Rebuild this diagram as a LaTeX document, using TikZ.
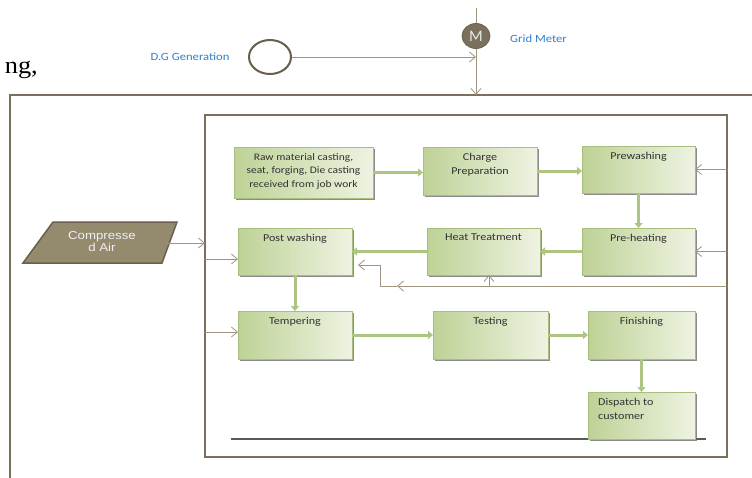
\documentclass[tikz,border=0pt]{standalone}
\usepackage{fontspec}
\setmainfont{Carlito}
\newfontfamily\boxf[FakeStretch=1.15]{Carlito}
\newfontfamily\airf[FakeStretch=1.15]{Liberation Sans}
\newfontfamily\ngfont[FakeStretch=1.1]{Liberation Serif}
\usetikzlibrary{arrows.meta,shadows,shapes.geometric}
\definecolor{frame}{RGB}{122,112,92}
\definecolor{thinc}{RGB}{160,150,128}
\definecolor{gdark}{RGB}{190,210,150}
\definecolor{glight}{RGB}{238,243,226}
\definecolor{gedge}{RGB}{168,190,126}
\definecolor{garrow}{RGB}{174,196,130}
\definecolor{bluet}{RGB}{48,128,205}
\definecolor{airfill}{RGB}{148,138,110}
\definecolor{airedge}{RGB}{105,96,76}
\definecolor{mfill}{RGB}{122,112,92}
\definecolor{txtc}{RGB}{50,50,50}
\definecolor{baseline}{RGB}{90,90,90}
\tikzset{
  thinline/.style={draw=thinc, line width=0.9pt},
  thinarrow/.style={thinline, -{Straight Barb[length=6pt,width=10pt,line width=0.8pt]}},
  garrowst/.style={draw=garrow, line width=3pt, -{Triangle[length=5pt,width=8pt]}},
  gbox/.style={draw=gedge, line width=0.6pt, left color=gdark, right color=glight,
    inner sep=0pt, outer sep=0pt,
    drop shadow={shadow xshift=1.6pt, shadow yshift=-1.6pt, fill=black!60, opacity=0.75}},
  boxtxt/.style={font=\boxf\fontsize{10.5}{14}\selectfont, text=txtc, inner sep=0pt, anchor=north, align=center},
  bluelbl/.style={font=\boxf\fontsize{11}{13}\selectfont, text=bluet, inner sep=0pt},
  framebox/.style={draw=frame, inner sep=0pt, outer sep=0pt},
}
\begin{document}
\begin{tikzpicture}[x=1pt,y=-1pt]
\clip (0,0) rectangle (752,477);
\fill[white] (0,0) rectangle (752,477);

% fragment of surrounding text
\node[anchor=base east, font=\ngfont\fontsize{24}{24}\selectfont, inner sep=0pt] (ng) at (38,73) {ng,};

% meters
\node[ellipse, draw=airedge, line width=0.8pt, fill=mfill, minimum width=28pt, minimum height=25pt,
  inner sep=0pt, text=white!92!black, font=\fontsize{16}{16}\selectfont] (M) at (476,36) {M};
\node[ellipse, draw=airedge, line width=2pt, fill=white, minimum width=42pt, minimum height=34pt] (DG) at (270,57) {};
\node[bluelbl, anchor=west] (gridlbl) at (510,39) {Grid Meter};
\node[bluelbl] (dglbl) at (190,57) {D.G Generation};
\coordinate (mtop) at (476,8);

% frames
\node[framebox, line width=2.5pt, minimum width=780pt, minimum height=410pt] (outer) at (400,300) {};
\node[framebox, line width=2.2pt, minimum width=522pt, minimum height=342pt] (inner) at (466,286) {};

\draw[thinline] (mtop) -- (M.north);
\draw[thinarrow] (M.south) -- (M.south |- outer.north);
\draw[thinarrow] (DG.east) -- (DG.east -| M.south);

% bottom rule
\coordinate (bl1) at (231,439);
\coordinate (bl2) at (706,439);
\draw[draw=baseline, line width=1.8pt] (bl1) -- (bl2);

% process boxes
\node[gbox, minimum width=139pt, minimum height=51pt] (raw)    at (303.5,172.5) {};
\node[gbox, minimum width=114pt, minimum height=48pt] (charge) at (480,171) {};
\node[gbox, minimum width=113pt, minimum height=47pt] (prew)   at (638.5,169.5) {};
\node[gbox, minimum width=113pt, minimum height=47pt] (preh)   at (638.5,251.5) {};
\node[gbox, minimum width=113pt, minimum height=47pt] (heat)   at (483.5,251.5) {};
\node[gbox, minimum width=114pt, minimum height=47pt] (postw)  at (295,251.5) {};
\node[gbox, minimum width=114pt, minimum height=48pt] (temp)   at (295,335) {};
\node[gbox, minimum width=115pt, minimum height=48pt] (test)   at (490.5,335) {};
\node[gbox, minimum width=107pt, minimum height=48pt] (fin)    at (641.5,335) {};
\node[gbox, minimum width=107pt, minimum height=47pt] (disp)   at (641.5,415.5) {};

\node[boxtxt, font=\boxf\fontsize{10}{13.5}\selectfont] (rawt) at ([yshift=-6pt]raw.north)
  {Raw material casting,\\seat, forging, Die casting\\received from job work};
\node[boxtxt] (charget) at ([yshift=-6pt]charge.north) {Charge\\Preparation};
\node[boxtxt] (prewt) at ([yshift=-6pt]prew.north) {Prewashing};
\node[boxtxt] (preht) at ([yshift=-6pt]preh.north) {Pre-heating};
\node[boxtxt] (heatt) at ([yshift=-6pt]heat.north) {Heat Treatment};
\node[boxtxt] (postwt) at ([yshift=-6pt]postw.north) {Post washing};
\node[boxtxt] (tempt) at ([yshift=-6pt]temp.north) {Tempering};
\node[boxtxt] (testt) at ([yshift=-6pt]test.north) {Testing};
\node[boxtxt] (fint) at ([yshift=-6pt]fin.north) {Finishing};
\node[boxtxt, anchor=north west, align=left] (dispt) at ([xshift=10pt,yshift=-6pt]disp.north west) {Dispatch to\\customer};

% green process arrows
\draw[garrowst] (raw.east) -- (raw.east -| charge.west);
\draw[garrowst] (charge.east) -- (charge.east -| prew.west);
\draw[garrowst] (prew.south) -- (preh.north);
\draw[garrowst] (preh.west) -- (preh.west -| heat.east);
\draw[garrowst] (heat.west) -- (heat.west -| postw.east);
\draw[garrowst] (postw.south) -- (temp.north);
\draw[garrowst] (temp.east) -- (temp.east -| test.west);
\draw[garrowst] (test.east) -- (test.east -| fin.west);
\draw[garrowst] (fin.south) -- (disp.north);

% compressed air
\draw[fill=airfill, draw=airedge, line width=1.5pt] (23,263) -- (53,222) -- (177,222) -- (162,263) -- cycle;
\node[font=\airf\fontsize{11.5}{12}\selectfont, text=white!94!black, align=center, inner sep=0pt] (air) at (102,242) {Compresse\\d Air};
\coordinate (airR) at (166,243);
\draw[thinarrow] (airR) -- (airR -| inner.west);

% thin supply arrows from the left
\coordinate (pwin) at (205,259);
\draw[thinarrow] (pwin) -- (pwin -| postw.west);
\coordinate (tin) at (205,332);
\draw[thinarrow] (tin) -- (tin -| temp.west);

% thin supply arrows from the right
\draw[thinarrow] (inner.east |- prew.east) -- (prew.east);
\draw[thinarrow] (inner.east |- preh.east) -- (preh.east);

% return loop
\coordinate (lr) at (727,286);
\coordinate (lm) at (397,286);
\coordinate (lc) at (380,286);
\coordinate (lu) at (380,265);
\coordinate (lt) at (358,265);
\coordinate (lb) at (489,286);
\draw[thinarrow] (lr) -- (lm);
\draw[thinarrow] (lm) -- (lc) -- (lu) -- (lt);
\draw[thinarrow] (lb) -- (lb |- heat.south);
\end{tikzpicture}
\end{document}
